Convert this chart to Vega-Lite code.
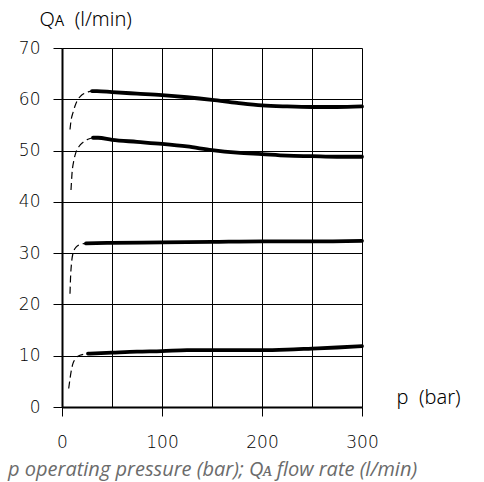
{
  "$schema": "https://vega.github.io/schema/vega-lite/v6.json",
  "autosize": "none",
  "width": 300,
  "height": 359,
  "padding": {"left": 62, "top": 48, "right": 122, "bottom": 75},
  "background": "white",
  "title": {
    "text": "p operating pressure (bar); Qᴀ flow rate (l/min)",
    "orient": "bottom",
    "anchor": "start",
    "frame": "group",
    "dx": -54,
    "offset": 10,
    "font": "Open Sans",
    "fontStyle": "italic",
    "fontWeight": "normal",
    "fontSize": 20,
    "color": "#6b6b6b"
  },
  "config": {
    "view": {"stroke": null},
    "axis": {
      "labelFont": "DejaVu Sans",
      "labelFontWeight": 200,
      "labelFontSize": 17,
      "labelColor": "black",
      "titleFont": "Noto Sans",
      "titleFontSize": 20,
      "titleFontWeight": 300,
      "titleColor": "black",
      "gridColor": "black",
      "gridOpacity": 1,
      "gridWidth": 1,
      "tickColor": "black",
      "tickWidth": 1,
      "domainColor": "black",
      "domainWidth": 2
    }
  },
  "data": {
    "values": [
      {"series": "a", "part": "start", "p": 8, "q": 54.1},
      {"series": "a", "part": "start", "p": 9, "q": 55.8},
      {"series": "a", "part": "start", "p": 11, "q": 57.4},
      {"series": "a", "part": "start", "p": 13, "q": 58.7},
      {"series": "a", "part": "start", "p": 16, "q": 60.0},
      {"series": "a", "part": "start", "p": 19, "q": 60.7},
      {"series": "a", "part": "start", "p": 23, "q": 61.2},
      {"series": "a", "part": "start", "p": 27, "q": 61.5},
      {"series": "a", "part": "start", "p": 30, "q": 61.6},
      {"series": "a", "part": "main", "p": 30, "q": 61.6},
      {"series": "a", "part": "main", "p": 35, "q": 61.6},
      {"series": "a", "part": "main", "p": 50, "q": 61.4},
      {"series": "a", "part": "main", "p": 75, "q": 61.1},
      {"series": "a", "part": "main", "p": 100, "q": 60.8},
      {"series": "a", "part": "main", "p": 125, "q": 60.4},
      {"series": "a", "part": "main", "p": 150, "q": 59.9},
      {"series": "a", "part": "main", "p": 175, "q": 59.3},
      {"series": "a", "part": "main", "p": 200, "q": 58.8},
      {"series": "a", "part": "main", "p": 225, "q": 58.6},
      {"series": "a", "part": "main", "p": 250, "q": 58.5},
      {"series": "a", "part": "main", "p": 275, "q": 58.5},
      {"series": "a", "part": "main", "p": 300, "q": 58.6},
      {"series": "b", "part": "start", "p": 9, "q": 42.3},
      {"series": "b", "part": "start", "p": 10, "q": 45.5},
      {"series": "b", "part": "start", "p": 12, "q": 48.2},
      {"series": "b", "part": "start", "p": 14, "q": 49.7},
      {"series": "b", "part": "start", "p": 17, "q": 50.8},
      {"series": "b", "part": "start", "p": 21, "q": 51.6},
      {"series": "b", "part": "start", "p": 26, "q": 52.2},
      {"series": "b", "part": "start", "p": 31, "q": 52.5},
      {"series": "b", "part": "main", "p": 31, "q": 52.5},
      {"series": "b", "part": "main", "p": 36, "q": 52.5},
      {"series": "b", "part": "main", "p": 50, "q": 52.1},
      {"series": "b", "part": "main", "p": 75, "q": 51.7},
      {"series": "b", "part": "main", "p": 100, "q": 51.3},
      {"series": "b", "part": "main", "p": 125, "q": 50.8},
      {"series": "b", "part": "main", "p": 150, "q": 50.1},
      {"series": "b", "part": "main", "p": 175, "q": 49.6},
      {"series": "b", "part": "main", "p": 200, "q": 49.3},
      {"series": "b", "part": "main", "p": 225, "q": 49.0},
      {"series": "b", "part": "main", "p": 250, "q": 48.9},
      {"series": "b", "part": "main", "p": 275, "q": 48.8},
      {"series": "b", "part": "main", "p": 300, "q": 48.8},
      {"series": "c", "part": "start", "p": 8, "q": 22.1},
      {"series": "c", "part": "start", "p": 8.5, "q": 25.0},
      {"series": "c", "part": "start", "p": 9.5, "q": 28.0},
      {"series": "c", "part": "start", "p": 11, "q": 30.0},
      {"series": "c", "part": "start", "p": 13, "q": 30.9},
      {"series": "c", "part": "start", "p": 16, "q": 31.5},
      {"series": "c", "part": "start", "p": 20, "q": 31.8},
      {"series": "c", "part": "start", "p": 24, "q": 31.9},
      {"series": "c", "part": "main", "p": 24, "q": 31.9},
      {"series": "c", "part": "main", "p": 50, "q": 32.0},
      {"series": "c", "part": "main", "p": 100, "q": 32.1},
      {"series": "c", "part": "main", "p": 150, "q": 32.2},
      {"series": "c", "part": "main", "p": 200, "q": 32.3},
      {"series": "c", "part": "main", "p": 250, "q": 32.3},
      {"series": "c", "part": "main", "p": 300, "q": 32.4},
      {"series": "d", "part": "start", "p": 6.7, "q": 3.6},
      {"series": "d", "part": "start", "p": 8, "q": 5.5},
      {"series": "d", "part": "start", "p": 9.5, "q": 7.3},
      {"series": "d", "part": "start", "p": 11, "q": 8.5},
      {"series": "d", "part": "start", "p": 13, "q": 9.3},
      {"series": "d", "part": "start", "p": 15, "q": 9.8},
      {"series": "d", "part": "start", "p": 18, "q": 10.1},
      {"series": "d", "part": "start", "p": 22, "q": 10.3},
      {"series": "d", "part": "start", "p": 26, "q": 10.4},
      {"series": "d", "part": "main", "p": 26, "q": 10.4},
      {"series": "d", "part": "main", "p": 50, "q": 10.6},
      {"series": "d", "part": "main", "p": 75, "q": 10.8},
      {"series": "d", "part": "main", "p": 100, "q": 10.9},
      {"series": "d", "part": "main", "p": 125, "q": 11.1},
      {"series": "d", "part": "main", "p": 150, "q": 11.1},
      {"series": "d", "part": "main", "p": 200, "q": 11.1},
      {"series": "d", "part": "main", "p": 225, "q": 11.2},
      {"series": "d", "part": "main", "p": 250, "q": 11.4},
      {"series": "d", "part": "main", "p": 275, "q": 11.6},
      {"series": "d", "part": "main", "p": 300, "q": 11.85}
    ]
  },
  "encoding": {
    "x": {
      "field": "p",
      "type": "quantitative",
      "scale": {"domain": [0, 300], "nice": false},
      "axis": {
        "values": [0, 50, 100, 150, 200, 250, 300],
        "grid": true,
        "tickSize": 9,
        "tickOpacity": {"condition": {"test": "datum.value % 100 === 0", "value": 1}, "value": 0},
        "labelExpr": "datum.value % 100 === 0 ? datum.label : ''",
        "labelPadding": 18,
        "labelFlush": false,
        "labelOverlap": false,
        "title": "p\u00a0\u00a0(bar)",
        "titleAlign": "left",
        "titleBaseline": "alphabetic",
        "titleAnchor": null,
        "titleX": 334,
        "titleY": -4
      }
    },
    "y": {
      "field": "q",
      "type": "quantitative",
      "scale": {"domain": [0, 70], "nice": false},
      "axis": {
        "values": [0, 10, 20, 30, 40, 50, 60, 70],
        "grid": true,
        "tickSize": 9,
        "labelPadding": 13,
        "labelFlush": false,
        "labelOverlap": false,
        "title": "Qᴀ\u00a0\u00a0(l/min)",
        "titleAngle": 0,
        "titleAlign": "left",
        "titleBaseline": "alphabetic",
        "titleAnchor": null,
        "titleX": -23,
        "titleY": -23
      }
    },
    "detail": {"field": "series"}
  },
  "layer": [
    {
      "transform": [{"filter": "datum.part === 'start'"}],
      "mark": {"type": "line", "interpolate": "monotone", "color": "black", "strokeWidth": 1.2, "strokeDash": [7, 4]}
    },
    {
      "transform": [{"filter": "datum.part === 'main'"}],
      "mark": {"type": "line", "interpolate": "monotone", "color": "black", "strokeWidth": 3.8, "strokeCap": "round"}
    }
  ]
}
